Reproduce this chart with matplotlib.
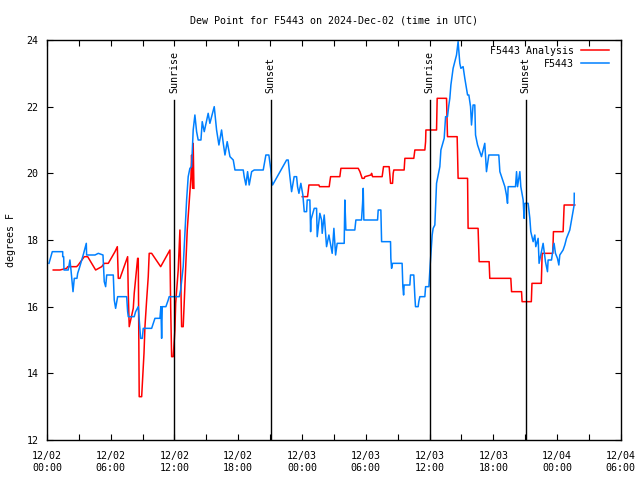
import numpy as np
import matplotlib
matplotlib.use('Agg')
import matplotlib.pyplot as plt
from matplotlib.ticker import MultipleLocator

plt.rcParams['font.family'] = ['DejaVu Sans Mono']
plt.rcParams['font.size'] = 7.2

# hours since 2024-12-02 00:00 UTC, dew point in F
obs_h = [0.19, 0.50, 1.48, 1.48, 1.57, 1.60, 2.00, 2.16, 2.26, 2.45, 2.57, 2.82, 2.89, 3.04, 3.41, 3.70, 3.73,
         4.52, 4.83, 5.27, 5.39, 5.52, 5.62, 6.24, 6.33, 6.46, 6.65, 7.50, 7.59, 7.65, 8.21, 8.34, 8.59, 8.81,
         8.97, 9.06, 9.85, 10.16, 10.63, 10.72, 10.79, 10.85, 11.19, 11.41, 11.50, 12.45, 12.58, 12.82, 12.98,
         13.14, 13.29, 13.45, 13.61, 13.71, 13.76, 13.92, 14.08, 14.23, 14.49, 14.61, 14.80, 15.17, 15.33,
         15.49, 15.74, 15.87, 15.96, 16.18, 16.43, 16.59, 16.75, 16.96, 17.22, 17.53, 17.69, 18.47, 18.56,
         18.72, 18.88, 19.03, 19.26, 19.50, 20.35, 20.60, 20.88, 21.07, 21.14, 21.23, 22.55, 22.70, 22.86,
         23.02, 23.26, 23.49, 23.58, 23.71, 23.89, 24.08, 24.21, 24.43, 24.49, 24.74, 24.81, 24.84, 25.15,
         25.37, 25.43, 25.68, 25.84, 25.90, 26.09, 26.31, 26.53, 26.84, 27.00, 27.09, 27.16, 27.31, 27.97,
         28.03, 28.13, 28.97, 29.07, 29.60, 29.70, 29.76, 29.82, 31.11, 31.17, 31.42, 31.49, 32.33, 32.36,
         32.43, 32.52, 33.42, 33.49, 33.56, 33.61, 34.15, 34.21, 34.52, 34.62, 34.68, 34.93, 34.99, 35.09,
         35.56, 35.63, 35.94, 36.06, 36.25, 36.34, 36.50, 36.66, 36.97, 37.07, 37.38, 37.51, 37.69, 37.82,
         37.91, 38.01, 38.22, 38.38, 38.54, 38.69, 38.85, 38.95, 39.16, 39.32, 39.58, 39.70, 39.86, 39.95,
         40.10, 40.26, 40.33, 40.52, 40.73, 40.89, 41.20, 41.36, 41.58, 41.83, 42.52, 42.62, 42.83, 43.09,
         43.24, 43.34, 43.40, 44.09, 44.19, 44.28, 44.50, 44.59, 44.81, 44.90, 44.97, 45.28, 45.44, 45.53,
         45.75, 45.91, 46.00, 46.22, 46.31, 46.69, 46.91, 47.10, 47.16, 47.48, 47.63, 47.72, 47.85, 48.04,
         48.17, 48.26, 48.57, 48.73, 48.89, 49.20, 49.42, 49.61, 49.62]
obs_v = [17.3, 17.65, 17.65, 17.5, 17.5, 17.1, 17.1, 17.4, 17.1, 16.45, 16.85, 16.85, 17.0, 17.15, 17.55, 17.9, 17.55,
         17.55, 17.6, 17.55, 16.75, 16.6, 16.95, 16.95, 16.2, 15.95, 16.3, 16.3, 15.85, 15.7, 15.7, 15.85, 16.0, 15.05,
         15.05, 15.35, 15.35, 15.65, 15.65, 16.0, 15.05, 16.0, 16.0, 16.2, 16.3, 16.3, 16.5, 17.2, 18.2,
         19.2, 19.9, 20.15, 20.2, 20.9, 21.3, 21.75, 21.25, 21.0, 21.0, 21.55, 21.25, 21.8, 21.5,
         21.7, 22.0, 21.6, 21.3, 20.85, 21.3, 20.9, 20.55, 20.95, 20.5, 20.4, 20.1, 20.1, 19.9,
         19.65, 20.05, 19.65, 20.05, 20.1, 20.1, 20.55, 20.55, 20.1, 19.8, 19.65, 20.4, 20.4, 19.9,
         19.45, 19.9, 19.9, 19.6, 19.4, 19.7, 19.35, 18.85, 18.85, 19.2, 19.2, 18.25, 18.6, 18.95,
         18.95, 18.1, 18.8, 18.6, 18.2, 18.75, 17.8, 18.15, 17.6, 18.35, 17.9, 17.55, 17.9, 17.9,
         19.2, 18.3, 18.3, 18.6, 18.6, 19.1, 19.55, 18.6, 18.6, 18.9, 18.9, 17.95, 17.95, 17.45,
         17.15, 17.3, 17.3, 16.6, 16.35, 16.65, 16.65, 16.95, 16.95, 16.3, 16.0, 16.0, 16.15, 16.3,
         16.3, 16.6, 16.6, 17.25, 18.15, 18.35, 18.45, 19.7, 20.2, 20.7, 21.05, 21.7, 21.7, 22.05,
         22.25, 22.65, 23.15, 23.35, 23.55, 23.95, 23.3, 23.15, 23.2, 22.85, 22.35, 22.35, 22.0, 21.45,
         22.05, 22.05, 21.15, 20.85, 20.65, 20.5, 20.9, 20.05, 20.55, 20.55, 20.55, 20.05, 19.85, 19.6,
         19.35, 19.1, 19.6, 19.6, 20.05, 19.6, 20.05, 19.6, 19.2, 18.65, 19.1, 19.1, 18.65, 18.25,
         17.95, 18.15, 17.8, 18.05, 17.3, 17.9, 17.35, 17.05, 17.4, 17.4, 17.75, 17.9, 17.6, 17.45,
         17.25, 17.55, 17.7, 17.85, 18.05, 18.3, 18.7, 19.05, 19.4]

# analysis, day 1 segment
ana1_h = [0.59, 1.13, 1.22, 1.85, 1.95, 2.79, 2.94, 3.51, 3.83, 4.58, 5.15, 5.39, 5.77, 6.40, 6.62, 6.71, 6.87,
          7.59, 7.65, 7.74, 8.12, 8.21, 8.53, 8.59, 8.68, 8.91, 9.13, 9.22, 9.38, 9.53, 9.62, 9.85, 10.70, 11.57,
          11.64, 11.73, 11.88, 12.04, 12.11, 12.35, 12.51, 12.67, 12.82, 13.20, 13.55, 13.61, 13.71, 13.76, 13.83]
ana1_v = [17.1, 17.1, 17.1, 17.15, 17.2, 17.2, 17.25, 17.5, 17.5, 17.1, 17.2, 17.3, 17.3, 17.65, 17.8, 16.85, 16.85,
          17.5, 16.4, 15.4, 15.95, 16.4, 17.45, 17.45, 13.3, 13.3, 14.6, 15.4, 16.2, 16.9, 17.6, 17.6, 17.2, 17.7,
          16.0, 14.5, 14.5, 15.3, 16.1, 17.1, 18.3, 15.4, 15.4, 18.3, 19.9, 20.55, 19.55, 20.9, 19.55]
# analysis, day 2 segment
ana2_h = [24.02, 24.52, 24.58, 24.65, 25.59, 25.65, 26.56, 26.62, 26.69, 27.56, 27.66, 29.29, 29.45, 29.66, 29.85,
          29.92, 30.48, 30.55, 30.64, 31.54, 31.67, 32.20, 32.33, 32.52, 32.58, 32.64, 33.61, 33.68, 34.52, 34.62,
          35.56, 35.63, 35.66, 36.66, 36.72, 37.60, 37.69, 38.60, 38.69, 39.58, 39.63, 40.57, 40.67, 41.61, 41.67,
          43.65, 43.72, 44.66, 44.71, 45.58, 45.64, 46.52, 46.60, 47.60, 47.66, 48.57, 48.67, 49.67]
ana2_v = [19.3, 19.3, 19.45, 19.65, 19.65, 19.6, 19.6, 19.75, 19.9, 19.9, 20.15, 20.15, 20.05, 19.85, 19.85,
          19.9, 19.95, 20.0, 19.9, 19.9, 20.2, 20.2, 19.7, 19.7, 20.0, 20.1, 20.1, 20.45, 20.45, 20.7,
          20.7, 20.95, 21.3, 21.3, 22.25, 22.25, 21.1, 21.1, 19.85, 19.85, 18.35, 18.35, 17.35, 17.35, 16.85,
          16.85, 16.45, 16.45, 16.15, 16.15, 16.7, 16.7, 17.6, 17.6, 18.25, 18.25, 19.05, 19.05]

sun_h = [12.0, 21.07, 36.03, 45.06]
sun_lbl = ['Sunrise', 'Sunset', 'Sunrise', 'Sunset']

xticks = np.arange(0, 55, 6)
xlabels = ['12/02\n00:00', '12/02\n06:00', '12/02\n12:00', '12/02\n18:00', '12/03\n00:00',
           '12/03\n06:00', '12/03\n12:00', '12/03\n18:00', '12/04\n00:00', '12/04\n06:00']

fig = plt.figure(figsize=(6.4, 4.8), dpi=100)
ax = fig.add_axes([0.0734, 0.0833, 0.8966, 0.8334])

ax.plot(ana1_h, ana1_v, color='#ff0000', lw=1.1, label='F5443 Analysis')
ax.plot(ana2_h, ana2_v, color='#ff0000', lw=1.1)
ax.plot(obs_h, obs_v, color='#0080ff', lw=1.1, label='F5443')

for h, t in zip(sun_h, sun_lbl):
    ax.plot([h, h], [12, 22.2], color='black', lw=1.0)
    ax.text(h, 22.4, t, rotation=90, ha='center', va='bottom')

ax.set_xlim(0, 54)
ax.set_ylim(12, 24)
ax.set_xticks(xticks)
ax.set_xticklabels(xlabels)
ax.xaxis.set_minor_locator(MultipleLocator(3))
ax.set_yticks(np.arange(12, 25, 2))
ax.tick_params(which='both', direction='in', top=True, right=True, length=4, width=0.8)
ax.tick_params(axis='x', pad=8)
ax.tick_params(axis='y', pad=6)
for s in ax.spines.values():
    s.set_linewidth(1.0)

ax.set_ylabel('degrees F', labelpad=8)
ax.set_title('Dew Point for F5443 on 2024-Dec-02 (time in UTC)', fontsize=7.2, pad=12)
ax.legend(loc='upper right', bbox_to_anchor=(0, 0, 1.0, 1.016), frameon=False, markerfirst=False,
          handlelength=2.8, borderaxespad=1.0, borderpad=0.2, labelspacing=0.3, handletextpad=0.7)

fig.savefig('out.png', dpi=100)
